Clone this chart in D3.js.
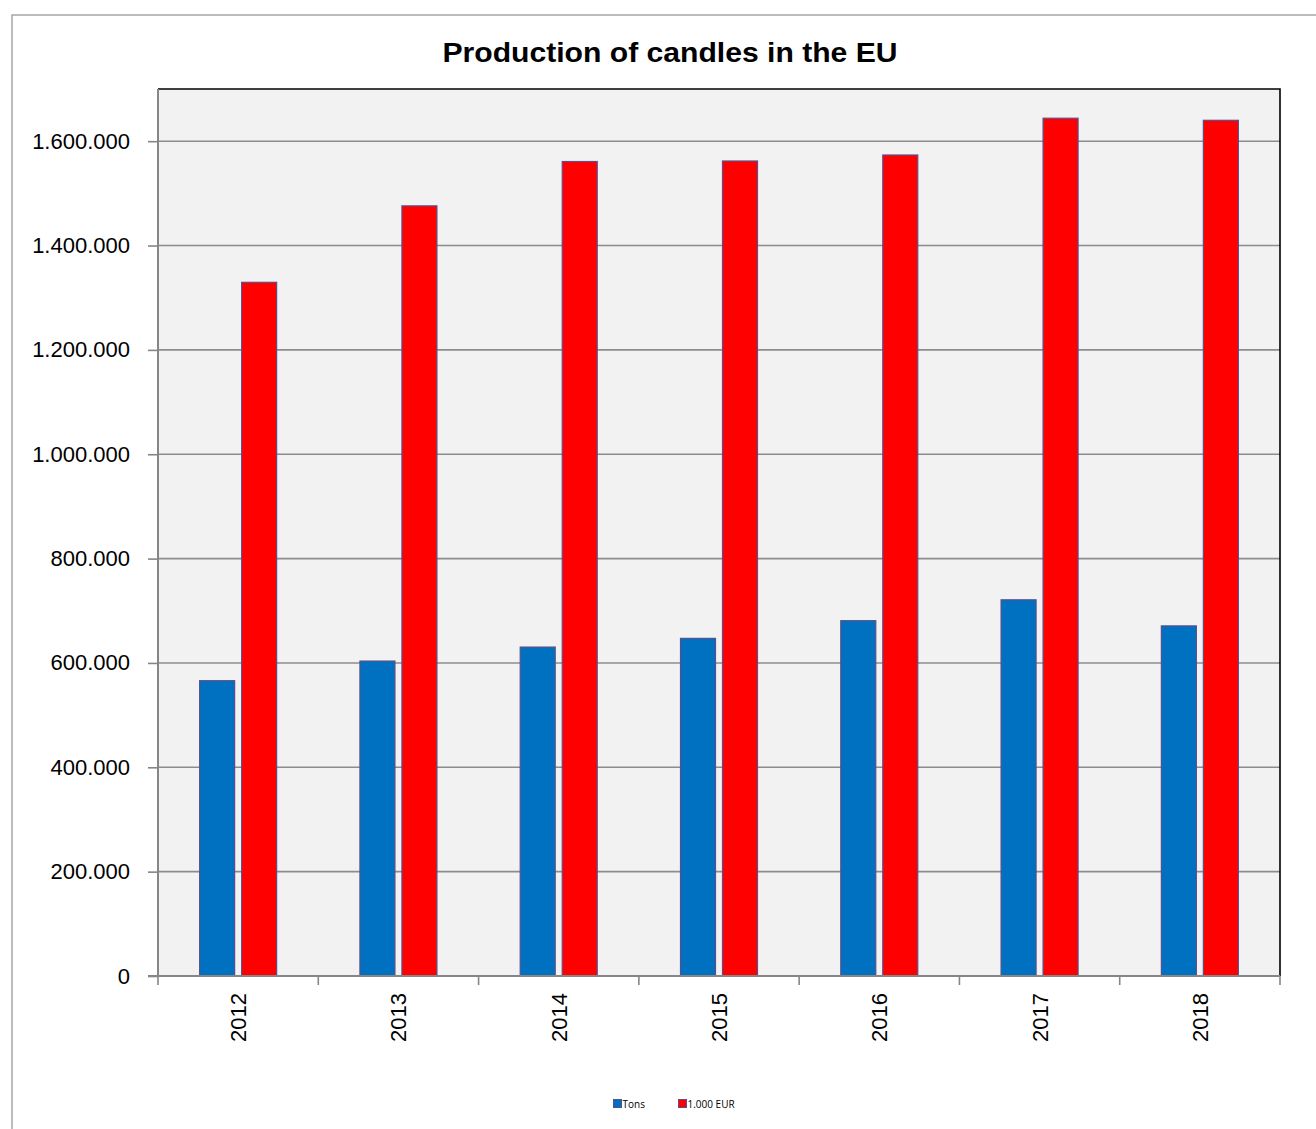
<!DOCTYPE html>
<html><head><meta charset="utf-8">
<script src="https://cdn.jsdelivr.net/npm/d3@7"></script>
<style>html,body{margin:0;padding:0;background:#fff;}svg{display:block;}</style>
</head><body>
<svg id="chart" width="1316" height="1129"></svg>
<script>
const years = ["2012","2013","2014","2015","2016","2017","2018"];
const seriesNames = ["Tons","1.000 EUR"];
const tons = [566000, 603600, 630400, 647100, 681000, 721000, 671000];
const eur = [1329500, 1476000, 1561000, 1562000, 1573500, 1644000, 1640000];
const yTicks = [0,200000,400000,600000,800000,1000000,1200000,1400000,1600000];
const colors = ["#0070C0","#FF0000"];
const title = "Production of candles in the EU";

const svg = d3.select("#chart");
const L=158, R=1280, T=89, B=976;
const font = "'Liberation Sans', Arial, sans-serif";

// outer frame
svg.append("rect").attr("x",12).attr("y",15).attr("width",1330).attr("height",1140)
  .attr("fill","#fff").attr("stroke","#a6a6a6").attr("stroke-width",1.5);

const y = d3.scaleLinear().domain([0,1700000]).range([B,T]);
const x0 = d3.scaleBand().domain(years).range([L,R]).padding(0);
const bw = x0.bandwidth();
const x1 = d3.scaleBand().domain(seriesNames).range([bw/2-38.5, bw/2+38.5]).paddingInner(7/42);

// plot background
svg.append("rect").attr("x",L).attr("y",T).attr("width",R-L).attr("height",B-T).attr("fill","#F2F2F2");

// gridlines
svg.append("g").selectAll("line").data(yTicks.filter(d=>d>0)).join("line")
  .attr("x1",L).attr("x2",R).attr("y1",d=>y(d)).attr("y2",d=>y(d))
  .attr("stroke","#8c8c8c").attr("stroke-width",1.6);

// top & right border
svg.append("path").attr("d",`M${L},${T}H${R}V${B}`).attr("fill","none").attr("stroke","#000").attr("stroke-width",1.6);

// bars
const data = years.map((yr,i)=>({yr, vals:[tons[i], eur[i]]}));
const g = svg.append("g").selectAll("g").data(data).join("g")
  .attr("transform",d=>`translate(${x0(d.yr)},0)`);
g.selectAll("rect").data(d=>d.vals.map((v,j)=>({v,s:seriesNames[j],j}))).join("rect")
  .attr("x",d=>x1(d.s)).attr("width",x1.bandwidth())
  .attr("y",d=>y(d.v)).attr("height",d=>y(0)-y(d.v))
  .attr("fill",d=>colors[d.j]).attr("stroke","#5a4f8c").attr("stroke-width",1.2);

// y axis
const yAxis = d3.axisLeft(y).tickValues(yTicks).tickSize(10).tickPadding(18)
  .tickFormat(d=>d3.format(",")(d).replace(/,/g,"."));
const ya = svg.append("g").attr("transform",`translate(${L},0)`).call(yAxis);
ya.select(".domain").remove();
ya.selectAll(".tick line").attr("stroke","#868686").attr("stroke-width",1.6);
ya.selectAll(".tick text").attr("font-family",font).attr("font-size",22).attr("fill","#000");
svg.append("line").attr("x1",L).attr("x2",L).attr("y1",T).attr("y2",B+1).attr("stroke","#868686").attr("stroke-width",2);

// x axis
svg.append("line").attr("x1",L-10).attr("x2",R).attr("y1",B).attr("y2",B).attr("stroke","#868686").attr("stroke-width",2);
const bounds = years.map(d=>x0(d)).concat([R]);
svg.append("g").selectAll("line").data(bounds).join("line")
  .attr("x1",d=>d).attr("x2",d=>d).attr("y1",B).attr("y2",B+9)
  .attr("stroke","#868686").attr("stroke-width",1.6);
svg.append("g").selectAll("text").data(years).join("text")
  .attr("transform",d=>`translate(${x0(d)+bw/2+8},${B+17}) rotate(-90)`)
  .attr("text-anchor","end").attr("font-family",font).attr("font-size",22).attr("fill","#000")
  .text(d=>d);

// title
svg.append("text").attr("x",670).attr("y",62).attr("text-anchor","middle")
  .attr("font-family",font).attr("font-weight","bold").attr("font-size",27).attr("fill","#000")
  .attr("textLength",455).attr("lengthAdjust","spacingAndGlyphs").text(title);

// legend
const legX = [613, 678];
const lg = svg.append("g").selectAll("g").data(seriesNames).join("g")
  .attr("transform",(d,i)=>`translate(${legX[i]},1099)`);
lg.append("rect").attr("x",0.5).attr("y",0.5).attr("width",8).attr("height",8)
  .attr("fill",(d,i)=>colors[i]).attr("stroke","#5a4f8c").attr("stroke-width",1);
lg.append("text").attr("x",9.5).attr("y",8.5).attr("font-family","'Open Sans', sans-serif").attr("font-size",10)
  .attr("fill","#000").text(d=>d);
</script>
</body></html>
